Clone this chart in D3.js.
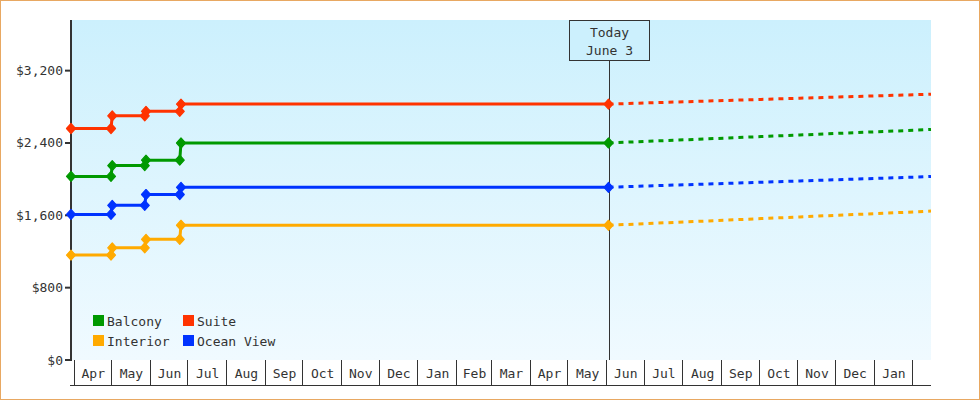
<!DOCTYPE html>
<html>
<head>
<meta charset="utf-8">
<script src="https://cdn.jsdelivr.net/npm/d3@7"></script>
<style>
  body { margin: 0; background: #fff; }
  svg text { font-family: "DejaVu Sans Mono", "Liberation Mono", monospace; font-size: 13px; fill: #333; }
</style>
</head>
<body>
<div id="chart"></div>
<script>
// price history (step changes) up to today
let histDates = ["2022-03-30", "2022-05-01", "2022-05-02", "2022-05-28", "2022-05-29", "2022-06-25", "2022-06-26", "2023-06-03"];
let suiteHist = [2560, 2560, 2700, 2700, 2750, 2750, 2830, 2830];
let balconyHist = [2030, 2030, 2150, 2150, 2210, 2210, 2400, 2400];
let oceanHist = [1610, 1610, 1710, 1710, 1830, 1830, 1910, 1910];
let interiorHist = [1160, 1160, 1240, 1240, 1335, 1335, 1490, 1490];

// projected prices after today
let projDates = ["2023-06-03", "2023-07-03", "2023-08-03", "2023-09-03", "2023-10-03", "2023-11-03", "2023-12-03", "2024-01-03", "2024-02-03", "2024-02-16"];
let suiteProj = [2830, 2843, 2856, 2869, 2882, 2895, 2908, 2921, 2934, 2940];
let balconyProj = [2400, 2418, 2435, 2453, 2471, 2488, 2506, 2524, 2541, 2550];
let oceanProj = [1910, 1924, 1938, 1952, 1966, 1980, 1994, 2008, 2022, 2030];
let interiorProj = [1490, 1508, 1527, 1545, 1564, 1582, 1601, 1619, 1638, 1648];

let yTicks = [0, 800, 1600, 2400, 3200];
let todayDate = "2023-06-03";
let todayLabel = ["Today", "June 3"];

let series = [
  {name: "Balcony", color: "#009900", hist: balconyHist, proj: balconyProj},
  {name: "Suite", color: "#ff3300", hist: suiteHist, proj: suiteProj},
  {name: "Interior", color: "#ffaa00", hist: interiorHist, proj: interiorProj},
  {name: "Ocean View", color: "#0033ff", hist: oceanHist, proj: oceanProj}
];

var W = 980, H = 400;
var margin = {top: 20, right: 49, bottom: 40, left: 71};
var parse = d3.timeParse("%Y-%m-%d");

var svg = d3.select("#chart").append("svg")
  .attr("width", W).attr("height", H);

var defs = svg.append("defs");
var grad = defs.append("linearGradient").attr("id", "bg")
  .attr("x1", 0).attr("y1", 0).attr("x2", 0).attr("y2", 1);
grad.append("stop").attr("offset", "0%").attr("stop-color", "#ccf0fd");
grad.append("stop").attr("offset", "100%").attr("stop-color", "#f0faff");

var x = d3.scaleTime()
  .domain([parse("2022-03-30"), parse("2024-02-16")])
  .range([margin.left, W - margin.right]);
var y = d3.scaleLinear()
  .domain([0, 3760])
  .range([H - margin.bottom, margin.top]);

var plotBottom = H - margin.bottom;

// plot background
svg.append("rect")
  .attr("x", margin.left).attr("y", margin.top)
  .attr("width", W - margin.right - margin.left)
  .attr("height", plotBottom - margin.top)
  .attr("fill", "url(#bg)");

// x axis: one cell per month
var months = d3.timeMonth.range(d3.timeMonth.ceil(x.domain()[0]), x.domain()[1]);
var xAxis = svg.append("g");
xAxis.append("line")
  .attr("x1", margin.left - 1).attr("x2", W - margin.right)
  .attr("y1", plotBottom + 25.5).attr("y2", plotBottom + 25.5)
  .attr("stroke", "#333");
xAxis.selectAll(".sep").data(months).join("line")
  .attr("x1", d => Math.round(x(d)) + 0.5).attr("x2", d => Math.round(x(d)) + 0.5)
  .attr("y1", plotBottom).attr("y2", plotBottom + 25)
  .attr("stroke", "#333");
xAxis.selectAll(".lbl").data(months.slice(0, -1)).join("text")
  .attr("x", d => (x(d) + x(d3.timeMonth.offset(d, 1))) / 2 + 1)
  .attr("y", plotBottom + 18)
  .attr("text-anchor", "middle")
  .text(d => d3.timeFormat("%b")(d));

// y axis
var yAxis = svg.append("g");
yAxis.append("line")
  .attr("x1", margin.left).attr("x2", margin.left)
  .attr("y1", margin.top).attr("y2", plotBottom + 1)
  .attr("stroke", "#333").attr("stroke-width", 2);
yAxis.selectAll(".tick").data(yTicks).join("line")
  .attr("x1", margin.left - 6).attr("x2", margin.left)
  .attr("y1", d => y(d)).attr("y2", d => y(d))
  .attr("stroke", "#333").attr("stroke-width", 2);
yAxis.selectAll(".lbl").data(yTicks).join("text")
  .attr("x", margin.left - 8)
  .attr("y", d => y(d) + 4.5)
  .attr("text-anchor", "end")
  .text(d => "$" + d3.format(",")(d));

// today marker
var tx = Math.round(x(parse(todayDate))) + 0.5;
svg.append("line")
  .attr("x1", tx).attr("x2", tx)
  .attr("y1", margin.top + 40).attr("y2", plotBottom)
  .attr("stroke", "#333");
svg.append("rect")
  .attr("x", tx - 40).attr("y", margin.top + 0.5)
  .attr("width", 80).attr("height", 40)
  .attr("fill", "#ccf0fd").attr("stroke", "#333");
svg.selectAll(".today").data(todayLabel).join("text")
  .attr("x", tx).attr("y", (d, i) => margin.top + 17 + i * 18)
  .attr("text-anchor", "middle")
  .text(d => d);

var line = d3.line()
  .x(d => x(d[0]))
  .y(d => y(d[1]));

var diamond = "M0,-5L4.5,0L0,5L-4.5,0Z";

series.forEach(function (s) {
  var hist = histDates.map((d, i) => [parse(d), s.hist[i]]);
  var proj = projDates.map((d, i) => [parse(d), s.proj[i]]);

  svg.append("path")
    .datum(proj)
    .attr("d", line)
    .attr("fill", "none")
    .attr("stroke", s.color)
    .attr("stroke-width", 3)
    .attr("stroke-dasharray", "5,5");

  svg.append("path")
    .datum(hist)
    .attr("d", line)
    .attr("fill", "none")
    .attr("stroke", s.color)
    .attr("stroke-width", 3);

  svg.append("g").selectAll("path").data(hist).join("path")
    .attr("transform", d => `translate(${x(d[0])},${y(d[1])})`)
    .attr("d", diamond)
    .attr("fill", s.color)
    .attr("stroke", s.color)
    .attr("stroke-width", 1.2)
    .attr("stroke-linejoin", "round");
});

// legend
var legend = svg.append("g");
var items = legend.selectAll("g").data(series).join("g")
  .attr("transform", (d, i) => `translate(${93 + (i % 2) * 90},${315 + Math.floor(i / 2) * 20})`);
items.append("rect")
  .attr("width", 11).attr("height", 11)
  .attr("fill", d => d.color);
items.append("text")
  .attr("x", 14).attr("y", 10.5)
  .text(d => d.name);

// outer frame
svg.append("rect")
  .attr("x", 0.5).attr("y", 0.5)
  .attr("width", W - 1).attr("height", H - 1)
  .attr("fill", "none")
  .attr("stroke", "#e8a862");
</script>
</body>
</html>
